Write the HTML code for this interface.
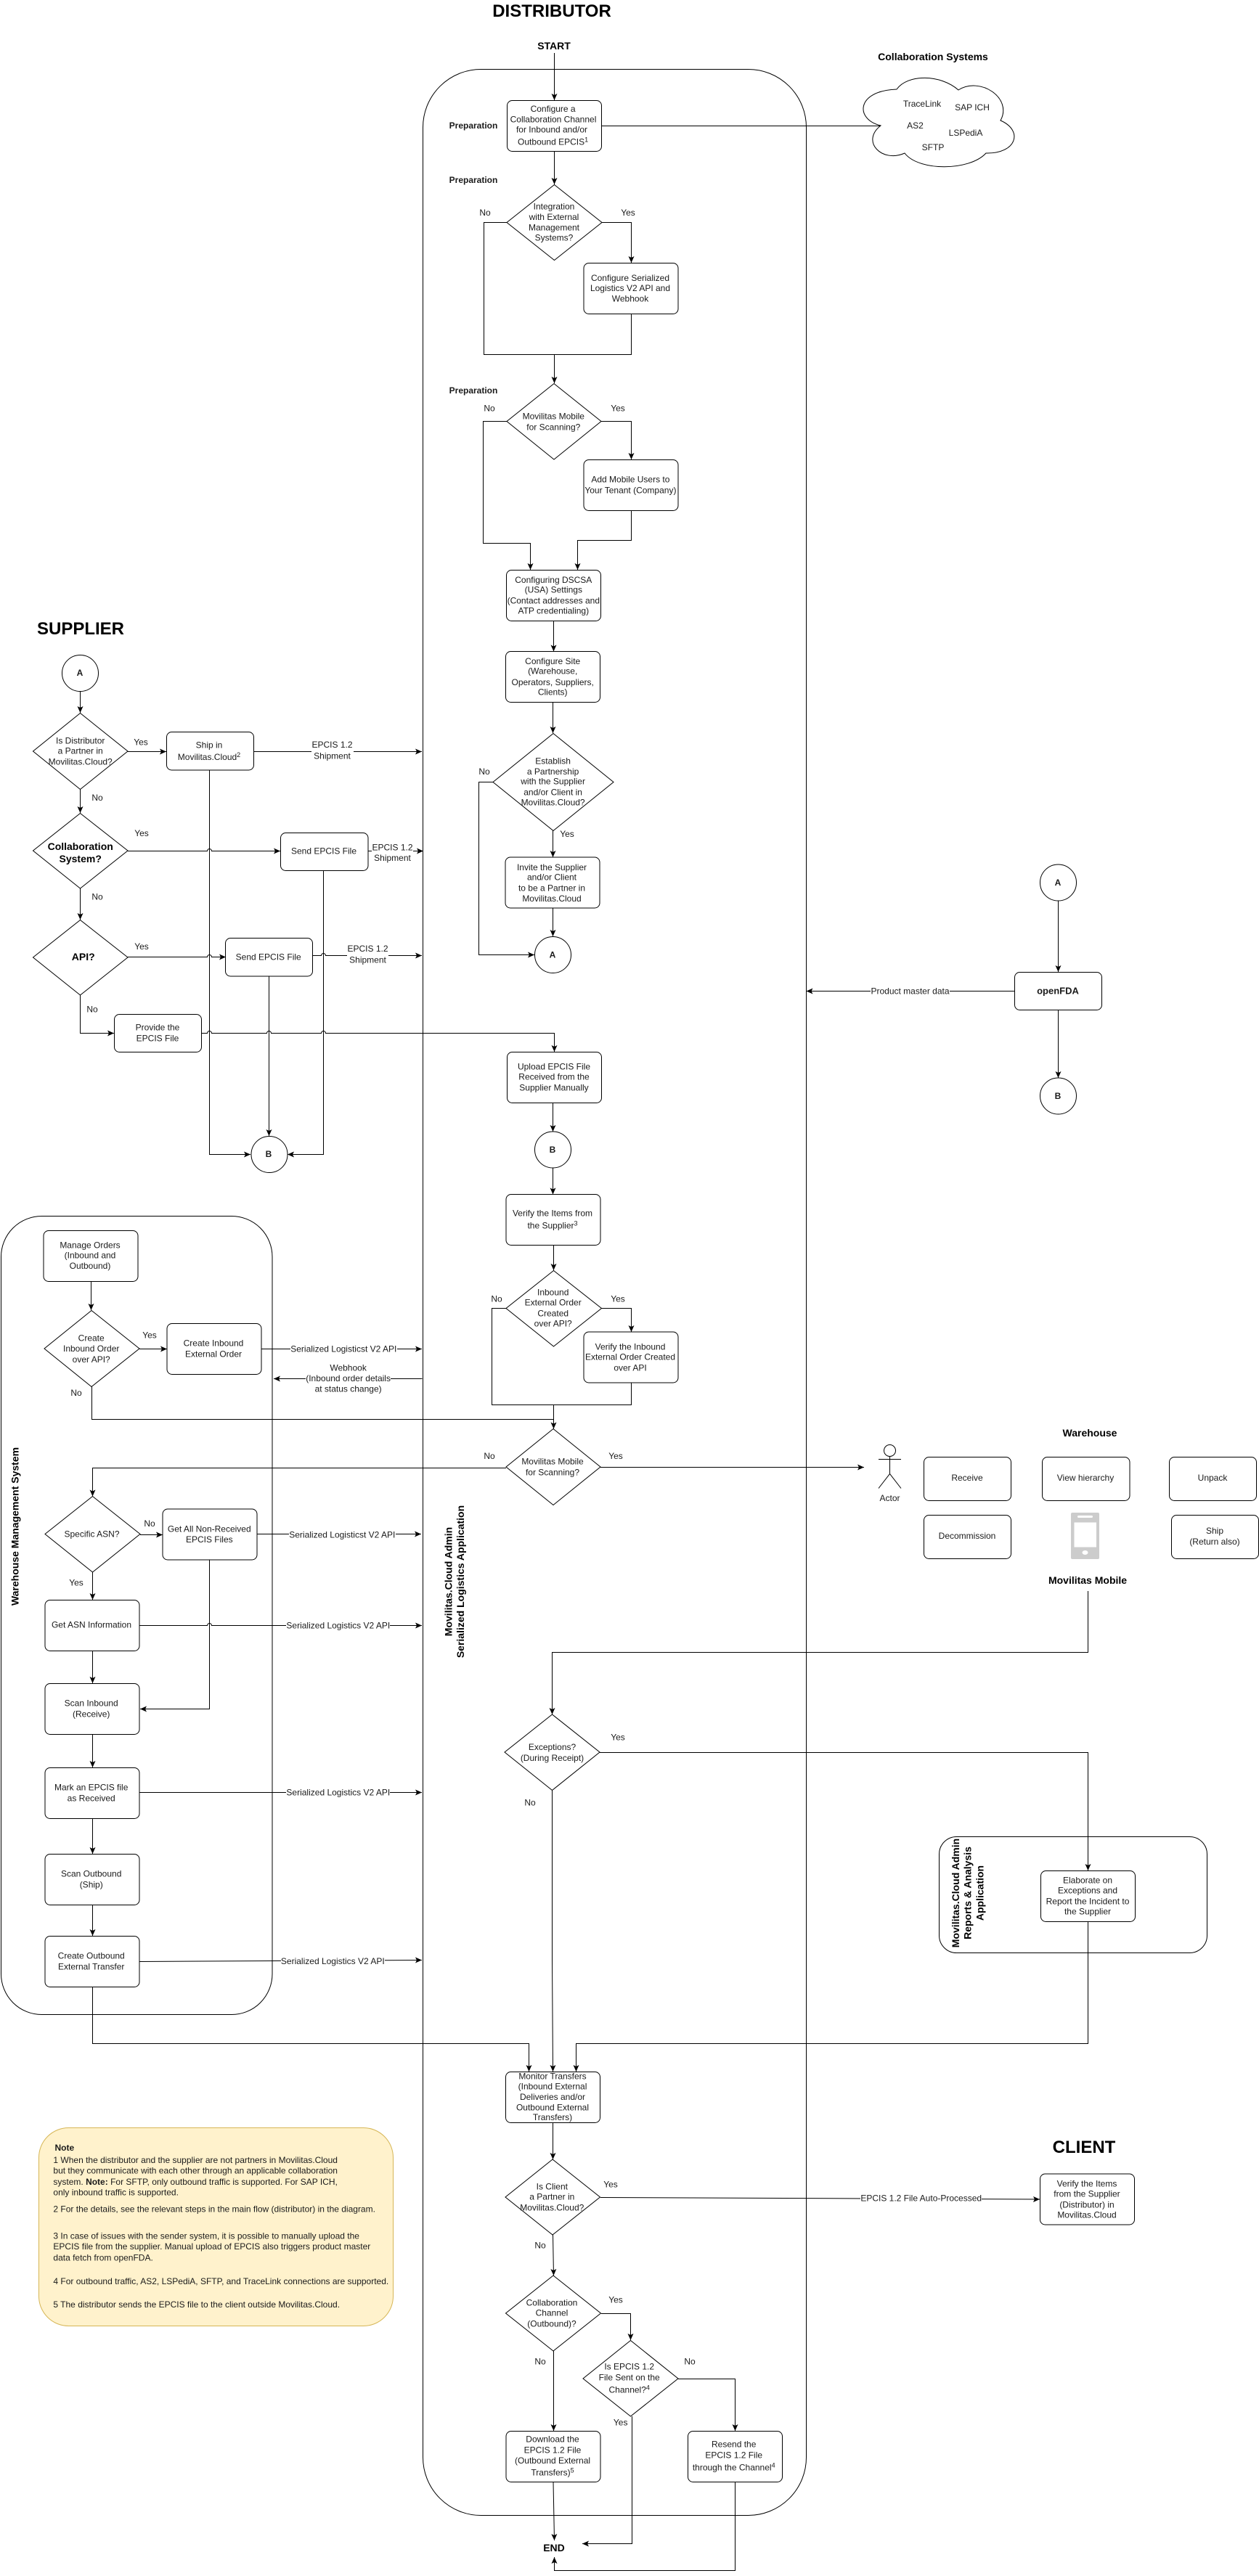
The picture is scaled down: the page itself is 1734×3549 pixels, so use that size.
<!DOCTYPE html>
<html><head><meta charset="utf-8"><title>Distributor flow</title>
<style>
html,body{margin:0;padding:0;background:#fff}
svg{display:block}
text{font-family:"Liberation Sans",Arial,sans-serif;font-size:12px;fill:#1a1a1a;text-anchor:middle}
.b{font-weight:bold}
.s{text-anchor:start}
.h{font-weight:bold;font-size:24px;fill:#000}
.m{font-weight:bold;font-size:14px;fill:#000}
.n{fill:#fff;stroke:#000;stroke-width:1}
.c{fill:none;stroke:#000;stroke-width:1}
.l path,path.l{fill:none;stroke:#000;stroke-width:1}
.a{marker-end:url(#ar)}
.w{fill:#fff;stroke:none}
</style></head><body>
<svg xmlns="http://www.w3.org/2000/svg" width="1734" height="3549" viewBox="0 0 1734 3549">
<defs><marker id="ar" markerUnits="userSpaceOnUse" markerWidth="10" markerHeight="10" refX="9" refY="4" orient="auto"><path d="M0 0L9 4L0 8L2 4z" fill="#000" stroke="none"/></marker></defs>
<rect width="1734" height="3549" fill="#fff"/>

<!-- containers -->
<rect class="c" x="582.5" y="95.5" width="528" height="3370" rx="80" ry="80"/>
<rect class="c" x="1.5" y="1675.5" width="373.5" height="1100" rx="56" ry="56"/>
<rect class="c" x="1293.5" y="2530.5" width="369" height="160" rx="24" ry="24"/>
<rect x="53.5" y="2931.5" width="488" height="273" rx="41" ry="41" fill="#fff2cc" stroke="#d6b656"/>

<!-- connectors -->
<g class="l">
<path class="a" d="M763.5 73V138"/>
<path d="M828 173.5H1213"/>
<path class="a" d="M763.5 208V254"/>
<path d="M698 306.5H666.5V488.5H869.5V432"/>
<path class="a" d="M829 306.5H869.5V362"/>
<path class="a" d="M763.5 488.5V528"/>
<path class="a" d="M698 580.5H665.5V748.5H730.5V785"/>
<path class="a" d="M828 580.5H869.5V633"/>
<path class="a" d="M869.5 703V744.5H795.5V785"/>
<path class="a" d="M762.5 855V897.5"/>
<path class="a" d="M761.5 967V1010"/>
<path class="a" d="M679 1077.5H659.5V1315.5H736"/>
<path class="a" d="M761.5 1144V1181"/>
<path class="a" d="M761.5 1251V1290"/>

<!-- supplier -->
<path class="a" d="M110.5 952V982"/>
<path class="a" d="M176 1035.5H229"/>
<path class="a" d="M349 1035.5H581"/>
<path class="a" d="M288.5 1061V1590.5H345"/>
<path class="a" d="M110.5 1087V1120"/>
<path class="a" d="M176 1172.5H285.5a3 3 0 0 1 6 0H386"/>
<path class="a" d="M507 1172.5H583"/>
<path class="a" d="M445.5 1199V1590.5H396"/>
<path class="a" d="M110.5 1224V1267"/>
<path class="a" d="M176 1318.5H285.5a3 3 0 0 1 6 0H311"/>
<path class="a" d="M430.5 1316.5H442.5a3 3 0 0 1 6 0H581"/>
<path class="a" d="M370.5 1345V1565"/>
<path class="a" d="M110.5 1371V1423.5H157"/>
<path class="a" d="M277.5 1423.5H285.5a3 3 0 0 1 6 0H367.5a3 3 0 0 1 6 0H442.5a3 3 0 0 1 6 0H763.5V1449"/>

<!-- central column -->
<path class="a" d="M761.5 1519V1559"/>
<path class="a" d="M761.5 1609V1645.5"/>
<path class="a" d="M762.5 1715V1750"/>
<path d="M697 1802.5H677.5V1935.5H869.5V1905"/>
<path class="a" d="M828 1802.5H869.5V1835"/>
<path class="a" d="M762.5 1935.5V1968.5"/>
<path d="M126.5 1910V1955.5H762.5"/>
<path class="a" d="M697 2022.5H127.5V2061.5"/>
<path class="a" d="M827 2021.5H1190"/>

<!-- openFDA -->
<path class="a" d="M1457.5 1241V1339"/>
<path class="a" d="M1397 1365.5H1110.5"/>
<path class="a" d="M1457.5 1391V1485"/>

<!-- wms -->
<path class="a" d="M125.5 1766V1805"/>
<path class="a" d="M192 1858.5H230"/>
<path class="a" d="M360 1858.5H581"/>
<path class="a" d="M581.5 1899.5H377"/>
<path class="a" d="M193 2114.5H224"/>
<path class="a" d="M354 2113.5H580"/>
<path class="a" d="M288.5 2149V2354.5H193"/>
<path class="a" d="M127.5 2166V2204"/>
<path class="a" d="M192 2239.5H285.5a3 3 0 0 1 6 0H581"/>
<path class="a" d="M127.5 2274V2319"/>
<path class="a" d="M127.5 2389V2435"/>
<path class="a" d="M192 2469.5H581"/>
<path class="a" d="M127.5 2505.5V2554"/>
<path class="a" d="M127.5 2624V2667"/>
<path class="a" d="M192 2702.5L581 2700.5"/>
<path class="a" d="M127.5 2737.5V2815.5H728.5V2854"/>

<!-- mobile to exceptions -->
<path class="a" d="M1498.5 2192V2276.5H760.5V2362"/>
<path class="a" d="M826 2414.5H1498.5V2577"/>
<path class="a" d="M760.5 2466V2700L761.5 2854"/>
<path class="a" d="M1498.5 2647V2815.5H793.5V2854"/>

<!-- bottom -->
<path class="a" d="M761.5 2924.5V2975"/>
<path class="a" d="M827 3027.5L1432 3030"/>
<path class="a" d="M761.5 3079L762.5 3135"/>
<path class="a" d="M828 3187.5H868.5V3224"/>
<path class="a" d="M762.5 3239V3349"/>
<path class="a" d="M934 3277.5H1012.5V3349"/>
<path class="a" d="M870.5 3329V3504.5H802"/>
<path class="a" d="M762 3419.5L763.5 3500"/>
<path class="a" d="M1012.5 3419.5V3541.5H763.5V3523"/>
</g>

<!-- label backgrounds -->
<rect class="w" x="429" y="1025" width="58" height="20"/>
<rect class="w" x="512" y="1165" width="57" height="20"/>
<rect class="w" x="478" y="1308" width="57" height="20"/>
<rect class="w" x="400" y="1852" width="147" height="13"/>
<rect class="w" x="421" y="1893" width="117" height="13"/>
<rect class="w" x="398" y="2107" width="147" height="13"/>
<rect class="w" x="394" y="2233" width="143" height="13"/>
<rect class="w" x="394" y="2463" width="143" height="13"/>
<rect class="w" x="387" y="2695" width="143" height="13"/>
<rect class="w" x="1185" y="3022" width="167" height="13"/>
<rect class="w" x="1199" y="1359" width="109" height="13"/>

<!-- cloud -->
<path class="n" d="M1235 123C1178 125 1178 165 1213 173C1185 195 1215 225 1246 211C1265 236 1335 236 1358 211C1400 212 1410 180 1378 166C1395 135 1350 105 1320 124C1295 102 1250 102 1235 123Z"/>

<!-- shapes -->
<g class="n">
<rect x="698.5" y="138.5" width="130" height="70" rx="7"/>
<polygon points="763.5,254.5 829,306.5 763.5,358.5 698,306.5"/>
<rect x="804" y="362.5" width="130" height="70" rx="7"/>
<polygon points="763,528.5 828,580.5 763,633 698,580.5"/>
<rect x="804" y="633.5" width="130" height="70" rx="7"/>
<rect x="697.5" y="785.5" width="130" height="70" rx="7"/>
<rect x="696.5" y="897.5" width="130" height="70" rx="7"/>
<polygon points="762,1010.5 845,1077.5 762,1144.5 679,1077.5"/>
<rect x="696" y="1181" width="130" height="70" rx="7"/>
<circle cx="761.5" cy="1315.5" r="25"/>

<circle cx="110.5" cy="927.5" r="25"/>
<polygon points="110.5,982.5 176,1035 110.5,1087.5 45.5,1035"/>
<rect x="229.5" y="1008.5" width="120" height="52.5" rx="7"/>
<polygon points="110.5,1120.5 176,1172 110.5,1224 45.5,1172"/>
<rect x="386.5" y="1147.5" width="120.5" height="52" rx="7"/>
<polygon points="110.5,1267.5 176,1319 110.5,1371 45.5,1319"/>
<rect x="310.5" y="1292.5" width="120" height="52.5" rx="7"/>
<rect x="157.5" y="1397.5" width="120" height="52" rx="7"/>
<circle cx="371" cy="1590.5" r="25"/>

<rect x="698.5" y="1449.5" width="130" height="70" rx="7"/>
<circle cx="761.5" cy="1584" r="25"/>
<rect x="697" y="1645.5" width="130" height="70" rx="7"/>
<polygon points="762.5,1750.5 828.5,1802.5 762.5,1855 697,1802.5"/>
<rect x="804" y="1835" width="130" height="70" rx="7"/>
<polygon points="762,1968.5 827,2021 762,2073.5 697,2021"/>

<rect x="60" y="1695.5" width="130" height="70" rx="7"/>
<polygon points="126,1805.5 192,1858 126,1910.5 61,1858"/>
<rect x="230" y="1823.5" width="130" height="70" rx="7"/>
<polygon points="127.5,2061.5 193,2113.5 127.5,2166 62,2113.5"/>
<rect x="224" y="2079" width="130" height="70" rx="7"/>
<rect x="62" y="2204.5" width="130" height="70" rx="7"/>
<rect x="62" y="2319.5" width="130" height="70" rx="7"/>
<rect x="62" y="2435.5" width="130" height="70" rx="7"/>
<rect x="62" y="2554.5" width="130" height="70" rx="7"/>
<rect x="62" y="2667.5" width="130" height="70" rx="7"/>

<rect x="1397.5" y="1339.5" width="120" height="52" rx="7"/>
<circle cx="1457.5" cy="1216" r="25"/>
<circle cx="1457.5" cy="1510" r="25"/>

<rect x="1272.5" y="2007.5" width="120" height="60" rx="7"/>
<rect x="1435.5" y="2007.5" width="120.5" height="60" rx="7"/>
<rect x="1610.5" y="2007.5" width="120" height="60" rx="7"/>
<rect x="1272.5" y="2087.5" width="120" height="60" rx="7"/>
<rect x="1613.5" y="2087.5" width="120" height="60" rx="7"/>

<polygon points="760.5,2362 826,2414 760.5,2466.5 695,2414"/>
<rect x="1433.5" y="2577.5" width="130" height="70" rx="7"/>

<rect x="696.5" y="2854.5" width="130" height="70" rx="7"/>
<polygon points="761,2975 826.5,3027 761,3079 696,3027"/>
<rect x="1432.5" y="2995" width="130" height="70" rx="7"/>
<polygon points="762,3135 827.5,3187 762,3239 696.5,3187"/>
<polygon points="868.5,3224.5 934,3277 868.5,3329 803,3277"/>
<rect x="697" y="3349.5" width="130" height="70" rx="7"/>
<rect x="947.5" y="3349.5" width="130" height="70" rx="7"/>
</g>

<!-- actor -->
<g class="c">
<ellipse cx="1225.5" cy="1998.5" rx="8" ry="8"/>
<path d="M1225.5 2007V2030.5M1210 2010.5H1241M1210 2050.5L1225.5 2030.5L1241 2050.5"/>
</g>

<!-- phone -->
<rect x="1475" y="2084" width="39" height="64" rx="2" fill="#ccc"/>
<rect x="1479.5" y="2097.5" width="30.5" height="34" fill="#fff"/>
<rect x="1484" y="2088" width="21" height="3" rx="1.5" fill="#fff"/>
<ellipse cx="1494.5" cy="2139" rx="4" ry="3" fill="#fff"/>

<!-- titles -->
<text class="h" x="760" y="23">DISTRIBUTOR</text>
<text class="h" x="111" y="874">SUPPLIER</text>
<text class="h" x="1493" y="2966">CLIENT</text>
<text class="m" x="763" y="68">START</text>
<text class="m" x="763" y="3515">END</text>
<text class="m" x="1285" y="83">Collaboration Systems</text>
<text class="m" x="1501" y="1979">Warehouse</text>
<text class="m" x="1498" y="2182">Movilitas Mobile</text>
<text class="m" transform="translate(25.5,2103) rotate(-90)">Warehouse Management System</text>
<text class="m" transform="translate(622.5,2179) rotate(-90)">Movilitas.Cloud Admin</text>
<text class="m" transform="translate(639,2179) rotate(-90)">Serialized Logistics Application</text>
<text class="m" transform="translate(1321,2608) rotate(-90)">Movilitas.Cloud Admin</text>
<text class="m" transform="translate(1337.5,2608) rotate(-90)">Reports &amp; Analysis</text>
<text class="m" transform="translate(1354.5,2608) rotate(-90)">Application</text>

<!-- small bold -->
<text class="b" x="652" y="177">Preparation</text>
<text class="b" x="652" y="252">Preparation</text>
<text class="b" x="652" y="542">Preparation</text>
<text class="b" x="761" y="1319.5">A</text>
<text class="b" x="110" y="931">A</text>
<text class="b" x="370" y="1594">B</text>
<text class="b" x="761" y="1588">B</text>
<text class="b" x="1457" y="1220">A</text>
<text class="b" x="1457" y="1514">B</text>
<text class="b" x="1457" y="1369.5" style="font-size:13px">openFDA</text>
<text class="m" x="110.7" y="1171">Collaboration</text>
<text class="m" x="110.7" y="1188">System?</text>
<text class="m" x="114.7" y="1323">API?</text>

<!-- cloud labels -->
<text x="1270" y="147">TraceLink</text>
<text x="1339" y="152">SAP ICH</text>
<text x="1260.5" y="177">AS2</text>
<text x="1330" y="187">LSPediA</text>
<text x="1285" y="207">SFTP</text>

<!-- node text -->
<text x="761.6" y="154">Configure a</text>
<text x="762" y="168.6">Collaboration Channel</text>
<text x="760" y="182.6">for Inbound and/or</text>
<text x="761.6" y="199.7">Outbound EPCIS<tspan dy="-4" font-size="9">1</tspan></text>

<text x="763" y="288.6">Integration</text>
<text x="763" y="303">with External</text>
<text x="763" y="317.6">Management</text>
<text x="763" y="331.5">Systems?</text>

<text x="868" y="386.9">Configure Serialized</text>
<text x="868" y="400.8">Logistics V2 API and</text>
<text x="868" y="415.4">Webhook</text>

<text x="762.3" y="577.5">Movilitas Mobile</text>
<text x="762.3" y="592.3">for Scanning?</text>
<text x="868.4" y="664.7">Add Mobile Users to</text>
<text x="868.4" y="679.5">Your Tenant (Company)</text>

<text x="762.3" y="803">Configuring DSCSA</text>
<text x="762.3" y="816.6">(USA) Settings</text>
<text x="762.3" y="831.4">(Contact addresses and</text>
<text x="762.3" y="845.7">ATP credentialing)</text>

<text x="761.2" y="914.8">Configure Site</text>
<text x="761.2" y="928.5">(Warehouse,</text>
<text x="761.2" y="943.9">Operators, Suppliers,</text>
<text x="761.2" y="957.6">Clients)</text>

<text x="761.6" y="1052.5">Establish</text>
<text x="761.6" y="1066.8">a Partnership</text>
<text x="761.6" y="1080.5">with the Supplier</text>
<text x="761.6" y="1095.3">and/or Client in</text>
<text x="761.6" y="1109.5">Movilitas.Cloud?</text>

<text x="760" y="1199">Invite the Supplier</text>
<text x="760" y="1212.7">and/or Client</text>
<text x="760" y="1227.5">to be a Partner in</text>
<text x="760" y="1241.8">Movilitas.Cloud</text>

<text x="110.7" y="1024.6">Is Distributor</text>
<text x="110.7" y="1038.4">a Partner in</text>
<text x="110.7" y="1053.7">Movilitas.Cloud?</text>
<text x="288" y="1030.7">Ship in</text>
<text x="288" y="1047">Movilitas.Cloud<tspan dy="-4" font-size="9">2</tspan></text>
<text x="446" y="1176.6">Send EPCIS File</text>
<text x="369.7" y="1322.6">Send EPCIS File</text>
<text x="217" y="1419.5">Provide the</text>
<text x="217" y="1434.3">EPCIS File</text>

<text x="763" y="1473.4">Upload EPCIS File</text>
<text x="763" y="1487.3">Received from the</text>
<text x="763" y="1502.4">Supplier Manually</text>
<text x="761" y="1675.5">Verify the Items from</text>
<text x="761" y="1692.4">the Supplier<tspan dy="-4" font-size="9">3</tspan></text>
<text x="761.7" y="1784.7">Inbound</text>
<text x="761.7" y="1798.6">External Order</text>
<text x="761.7" y="1813.4">Created</text>
<text x="761.7" y="1827.7">over API?</text>
<text x="868" y="1859.3">Verify the Inbound</text>
<text x="868" y="1873.6">External Order Created</text>
<text x="868" y="1888.4">over API</text>
<text x="761" y="2017.6">Movilitas Mobile</text>
<text x="761" y="2032.4">for Scanning?</text>

<text x="124" y="1719.6">Manage Orders</text>
<text x="124" y="1733.4">(Inbound and</text>
<text x="124" y="1748.2">Outbound)</text>
<text x="125.7" y="1847.7">Create</text>
<text x="125.7" y="1862">Inbound Order</text>
<text x="125.7" y="1876.8">over API?</text>
<text x="294" y="1854.3">Create Inbound</text>
<text x="294" y="1869.6">External Order</text>
<text x="126.5" y="2117.6">Specific ASN?</text>
<text x="288.3" y="2110.4">Get All Non-Received</text>
<text x="288.3" y="2125.2">EPCIS Files</text>
<text x="126" y="2242.6">Get ASN Information</text>
<text x="125.7" y="2350.4">Scan Inbound</text>
<text x="125.7" y="2365.4">(Receive)</text>
<text x="125.7" y="2466.5">Mark an EPCIS file</text>
<text x="125.7" y="2481.5">as Received</text>
<text x="125.7" y="2585.4">Scan Outbound</text>
<text x="125.7" y="2600.4">(Ship)</text>
<text x="125.7" y="2698.6">Create Outbound</text>
<text x="125.7" y="2713.6">External Transfer</text>

<text x="1332" y="2040">Receive</text>
<text x="1495" y="2040">View hierarchy</text>
<text x="1670" y="2040">Unpack</text>
<text x="1332" y="2120">Decommission</text>
<text x="1673" y="2113">Ship</text>
<text x="1673" y="2128">(Return also)</text>
<text x="1225.5" y="2068">Actor</text>

<text x="760.5" y="2410.8">Exceptions?</text>
<text x="760.5" y="2425.8">(During Receipt)</text>

<text x="1498" y="2594.7">Elaborate on</text>
<text x="1498" y="2608.7">Exceptions and</text>
<text x="1498" y="2623.7">Report the Incident to</text>
<text x="1498" y="2637.7">the Supplier</text>

<text x="761" y="2864.5">Monitor Transfers</text>
<text x="761" y="2878.4">(Inbound External</text>
<text x="761" y="2892.8">Deliveries and/or</text>
<text x="761" y="2907.3">Outbound External</text>
<text x="761" y="2921.2">Transfers)</text>

<text x="760.3" y="3016.6">Is Client</text>
<text x="760.3" y="3030.5">a Partner in</text>
<text x="760.3" y="3045.4">Movilitas.Cloud?</text>

<text x="1497" y="3012.7">Verify the Items</text>
<text x="1497" y="3026.7">from the Supplier</text>
<text x="1497" y="3041.7">(Distributor) in</text>
<text x="1497" y="3055.7">Movilitas.Cloud</text>

<text x="760" y="3176.6">Collaboration</text>
<text x="760" y="3190.5">Channel</text>
<text x="760" y="3205.4">(Outbound)?</text>

<text x="866.7" y="3264.5">Is EPCIS 1.2</text>
<text x="866.7" y="3279.3">File Sent on the</text>
<text x="866.7" y="3296.6">Channel?<tspan dy="-4" font-size="9">4</tspan></text>

<text x="761" y="3364.5">Download the</text>
<text x="761" y="3379.3">EPCIS 1.2 File</text>
<text x="761" y="3393.8">(Outbound External</text>
<text x="761" y="3410.5">Transfers)<tspan dy="-4" font-size="9">5</tspan></text>

<text x="1010.7" y="3371.4">Resend the</text>
<text x="1010.7" y="3386.3">EPCIS 1.2 File</text>
<text x="1010.7" y="3403.5">through the Channel<tspan dy="-4" font-size="9">4</tspan></text>

<!-- yes / no -->
<text x="668" y="297">No</text><text x="865" y="297">Yes</text>
<text x="674" y="566.5">No</text><text x="851" y="566.5">Yes</text>
<text x="667" y="1067">No</text><text x="781" y="1153">Yes</text>
<text x="194" y="1026.6">Yes</text><text x="134" y="1103">No</text>
<text x="195" y="1152">Yes</text><text x="134" y="1239.4">No</text>
<text x="195" y="1308">Yes</text><text x="127" y="1394.5">No</text>
<text x="684" y="1793.4">No</text><text x="851" y="1793.4">Yes</text>
<text x="674" y="2010">No</text><text x="848" y="2010">Yes</text>
<text x="206" y="1843.6">Yes</text><text x="105" y="1923">No</text>
<text x="206" y="2102.8">No</text><text x="105" y="2184.4">Yes</text>
<text x="851" y="2397.6">Yes</text><text x="730" y="2487.6">No</text>
<text x="841" y="3013.3">Yes</text><text x="744" y="3097.5">No</text>
<text x="848" y="3172.4">Yes</text><text x="744" y="3257.5">No</text>
<text x="950" y="3257.5">No</text><text x="854.7" y="3341.7">Yes</text>

<!-- edge labels -->
<text x="457.5" y="1030">EPCIS 1.2</text><text x="457.5" y="1045.5">Shipment</text>
<text x="540.5" y="1171.5">EPCIS 1.2</text><text x="540.5" y="1186">Shipment</text>
<text x="506.5" y="1311">EPCIS 1.2</text><text x="506.5" y="1326.6">Shipment</text>
<text x="473.3" y="1862.5">Serialized Logisticst V2 API</text>
<text x="479.6" y="1888.5">Webhook</text>
<text x="479.6" y="1902.8">(Inbound order details</text>
<text x="479.6" y="1917.6">at status change)</text>
<text x="471.3" y="2118.6">Serialized Logisticst V2 API</text>
<text x="465.8" y="2243.6">Serialized Logistics V2 API</text>
<text x="465.8" y="2473.5">Serialized Logistics V2 API</text>
<text x="458.3" y="2705.8">Serialized Logistics V2 API</text>
<text x="1253.5" y="1369.5">Product master data</text>
<text x="1268.7" y="3032.7">EPCIS 1.2 File Auto-Processed</text>

<!-- note -->
<text class="s b" x="75.5" y="2963">Note</text>
<text class="s" x="73.4" y="2980">1 When the distributor and the supplier are not partners in Movilitas.Cloud</text>
<text class="s" x="73.4" y="2994.7">but they communicate with each other through an applicable collaboration</text>
<text class="s" x="73.4" y="3009.9">system. <tspan class="b">Note:</tspan> For SFTP, only outbound traffic is supported. For SAP ICH,</text>
<text class="s" x="73.4" y="3024.7">only inbound traffic is supported.</text>
<text class="s" x="73.4" y="3047.4">2 For the details, see the relevant steps in the main flow (distributor) in the diagram.</text>
<text class="s" x="73.4" y="3084.7">3 In case of issues with the sender system, it is possible to manually upload the</text>
<text class="s" x="73.4" y="3099.2">EPCIS file from the supplier. Manual upload of EPCIS also triggers product master</text>
<text class="s" x="73.4" y="3114.3">data fetch from openFDA.</text>
<text class="s" x="73.4" y="3146.8">4 For outbound traffic, AS2, LSPediA, SFTP, and TraceLink connections are supported.</text>
<text class="s" x="73.4" y="3178.8">5 The distributor sends the EPCIS file to the client outside Movilitas.Cloud.</text>
</svg>
</body></html>
